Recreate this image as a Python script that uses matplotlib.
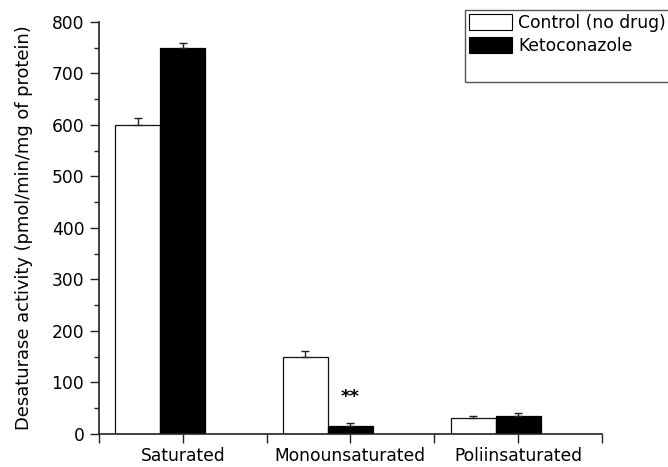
import matplotlib

matplotlib.use("Agg")
import matplotlib.pyplot as plt
from matplotlib.patches import Patch, Rectangle
import numpy as np

plt.rcParams["font.family"] = ["DejaVu Sans"]

categories = ["Saturated", "Monounsaturated", "Poliinsaturated"]
control = [600, 150, 30]
control_err = [14, 10, 4]
keto = [750, 16, 35]
keto_err = [10, 6, 6]
yticks = [0, 100, 200, 300, 400, 500, 600, 700, 800]

FS = 12.3

fig = plt.figure(figsize=(6.68, 4.67), dpi=100)
ax = fig.add_axes([0.148, 0.071, 0.753, 0.882])

pos = np.array([1, 3, 5])
w = 0.536
err_kw = dict(ecolor="#222222", elinewidth=1, capsize=3.2, capthick=1)
ax.bar(pos - w, control, w, color="white", edgecolor="#111111", linewidth=0.9,
       yerr=[np.zeros(3), control_err], error_kw=err_kw, zorder=2)
ax.bar(pos, keto, w, color="black", edgecolor="black", linewidth=0.9,
       yerr=[np.zeros(3), keto_err], error_kw=err_kw, zorder=2)

ax.text(pos[1], keto[1] + keto_err[1] + 32, "**", ha="center", va="bottom",
        fontsize=13, fontweight="bold")

ax.set_xlim(0, 6)
ax.set_ylim(0, 800)
ax.set_xticks(np.arange(0, 7))
ax.set_xticklabels(["", categories[0], "", categories[1], "", categories[2], ""])
ax.set_yticks(yticks)
ax.set_yticks(np.arange(50, 800, 100), minor=True)
ax.tick_params(axis="both", which="major", length=6.5, width=1, labelsize=FS,
               colors="#222222", labelcolor="black", pad=4)
ax.tick_params(axis="y", which="minor", length=3.5, width=1, colors="#222222")
ax.tick_params(axis="x", pad=3)
for side in ("top", "right"):
    ax.spines[side].set_visible(False)
for side in ("left", "bottom"):
    ax.spines[side].set_color("#222222")
    ax.spines[side].set_linewidth(1.2)

ax.set_ylabel("Desaturase activity (pmol/min/mg of protein)", fontsize=12.9, labelpad=13)

# legend frame drawn separately so it can leave blank room under the entries
fig.patches.append(Rectangle((465 / 668, 1 - 82 / 467), 205 / 668, 72 / 467,
                             transform=fig.transFigure, fill=False,
                             edgecolor="#555555", linewidth=1))
handles = [Patch(facecolor="white", edgecolor="black", linewidth=0.8),
           Patch(facecolor="black", edgecolor="black", linewidth=0.8)]
fig.legend(handles, ["Control (no drug)", "Ketoconazole"], loc="upper left",
           bbox_to_anchor=(467 / 668, 1 - 12 / 467), frameon=False, fontsize=FS,
           handlelength=2.55, handleheight=1.0, handletextpad=0.35, labelspacing=0.3,
           borderpad=0.1, borderaxespad=0)

fig.savefig("out.png", dpi=100)
